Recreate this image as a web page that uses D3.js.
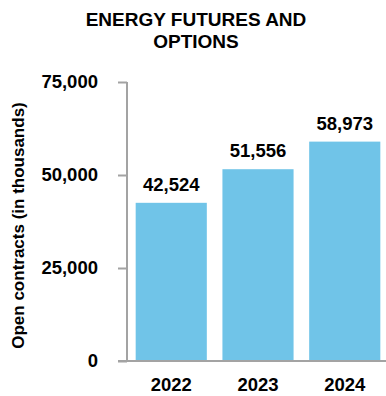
<!DOCTYPE html>
<html>
<head>
<meta charset="utf-8">
<script src="https://cdn.jsdelivr.net/npm/d3@7"></script>
<style>
  body { margin: 0; background: #fff; }
  svg { display: block; font-family: "Liberation Sans", Arial, sans-serif; }
</style>
</head>
<body>
<svg id="chart"></svg>
<script>
(() => {

  // data
  const years  = ['2022', '2023', '2024'];
  const values = [42524, 51556, 58973];
  const yTicks = [0, 25000, 50000, 75000];
  const titleLines = ['ENERGY FUTURES AND', 'OPTIONS'];
  const yTitle = 'Open contracts (in thousands)';

  const svgWidth  = 386;
  const svgHeight = 396;
  const margin = { top: 82, right: -3, bottom: 35, left: 127 };
  const barColor = '#70c4e8';
  const axisColor = '#a3a3a3';

  const svg = d3.select('#chart')
    .attr('width', svgWidth)
    .attr('height', svgHeight);

  const x = d3.scaleBand()
    .domain(years)
    .range([margin.left, svgWidth - margin.right])
    .paddingInner(0.18)
    .paddingOuter(0.1);

  const y = d3.scaleLinear()
    .domain([0, 75000])
    .range([svgHeight - margin.bottom, margin.top]);

  const fmt = d3.format(',');

  // title
  svg.append('text')
    .attr('x', 196)
    .attr('y', 26)
    .attr('text-anchor', 'middle')
    .style('font-size', '19px')
    .style('font-weight', 'bold')
    .selectAll('tspan')
    .data(titleLines)
    .enter()
    .append('tspan')
    .attr('x', 196)
    .attr('dy', (d, i) => i ? 22 : 0)
    .text(d => d);

  // bars
  svg.append('g')
    .selectAll('rect')
    .data(values)
    .enter()
    .append('rect')
    .attr('x', (d, i) => x(years[i]))
    .attr('y', d => y(d))
    .attr('width', x.bandwidth())
    .attr('height', d => y(0) - y(d))
    .attr('fill', barColor);

  // value labels
  svg.append('g')
    .selectAll('text')
    .data(values)
    .enter()
    .append('text')
    .attr('x', (d, i) => x(years[i]) + x.bandwidth() / 2)
    .attr('y', d => y(d) - 12)
    .attr('text-anchor', 'middle')
    .style('font-size', '18.5px')
    .style('font-weight', 'bold')
    .text(d => fmt(d));

  // y axis
  const yAxis = svg.append('g')
    .attr('transform', `translate(${margin.left},0)`)
    .call(d3.axisLeft(y).tickValues(yTicks).tickFormat(fmt).tickSize(9).tickPadding(20));
  yAxis.select('.domain').remove();
  yAxis.append('line')
    .attr('x1', 0).attr('x2', 0)
    .attr('y1', y(75000)).attr('y2', y(0))
    .attr('stroke', axisColor).attr('stroke-width', 2);
  yAxis.selectAll('.tick line').attr('stroke', axisColor).attr('stroke-width', 2);
  yAxis.selectAll('.tick text')
    .attr('fill', '#000')
    .style('font-size', '18.5px')
    .style('font-weight', 'bold')
    .style('font-family', '"Liberation Sans", Arial, sans-serif');

  // x axis
  const xAxis = svg.append('g')
    .attr('transform', `translate(0,${y(0)})`)
    .call(d3.axisBottom(x).tickSize(0).tickPadding(17));
  xAxis.select('.domain').remove();
  xAxis.append('line')
    .attr('x1', margin.left - 9).attr('x2', svgWidth)
    .attr('stroke', axisColor).attr('stroke-width', 2);
  xAxis.selectAll('.tick text')
    .attr('fill', '#000')
    .style('font-size', '18.5px')
    .style('font-weight', 'bold')
    .style('font-family', '"Liberation Sans", Arial, sans-serif');

  // y title
  svg.append('text')
    .attr('transform', `translate(24, ${(y(0) + y(75000)) / 2 + 4}) rotate(-90)`)
    .attr('text-anchor', 'middle')
    .style('font-size', '17px')
    .style('font-weight', 'bold')
    .text(yTitle);

})();
</script>
</body>
</html>
